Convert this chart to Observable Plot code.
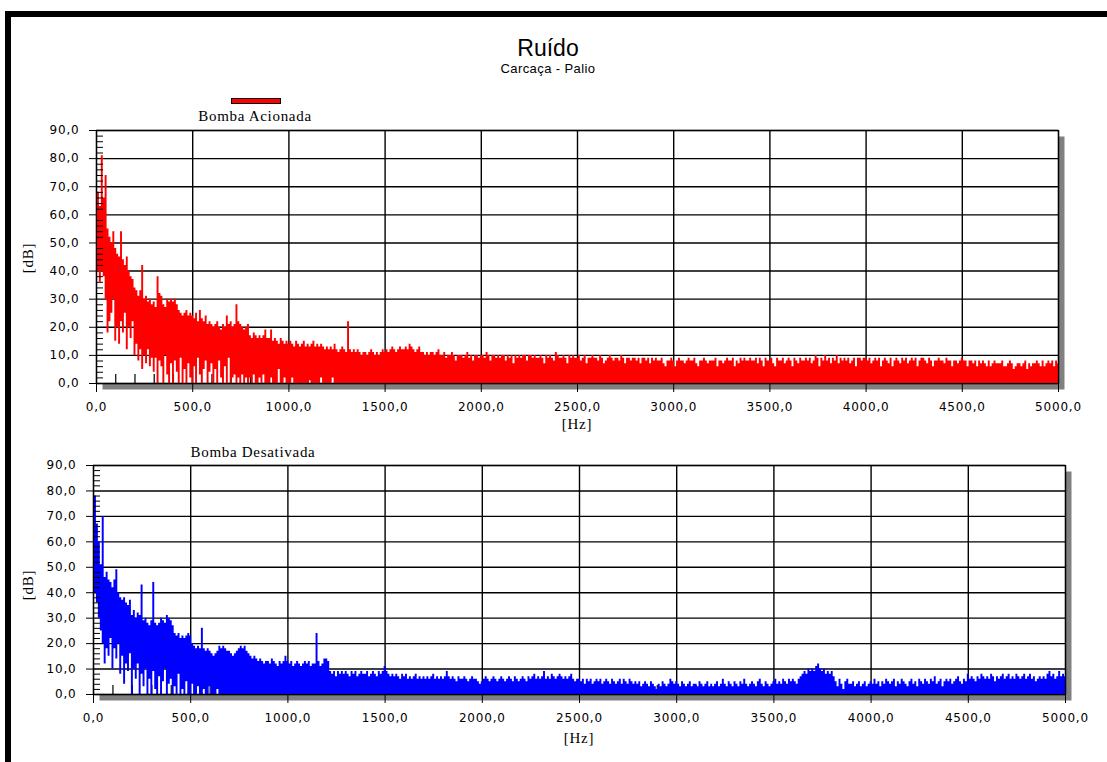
<!DOCTYPE html>
<html>
<head>
<meta charset="utf-8">
<script src="https://cdn.jsdelivr.net/npm/d3@7"></script>
<script src="https://cdn.jsdelivr.net/npm/@observablehq/plot@0.6"></script>
<style>
  html, body { margin: 0; padding: 0; background: #fff; }
  #wrap { position: relative; width: 1107px; height: 762px; overflow: hidden; background: #fff; }
  #border { position: absolute; left: 5px; top: 11px; width: 1200px; height: 900px; border-top: 6px solid #000; border-left: 6px solid #000; }
  .abs { position: absolute; white-space: nowrap; line-height: 1; color: #000; }
  .serif { font-family: "Liberation Serif", "DejaVu Serif", serif; font-size: 15px; letter-spacing: 0.7px; }
  #p1, #p2 { position: absolute; left: 0; }
  #p1 { top: 120px; } #p2 { top: 455px; }
</style>
</head>
<body>
<div id="wrap">
  <div id="border"></div>
  <div id="p1"></div>
  <div id="p2"></div>
  <div class="abs" id="title" style="left:548px; top:37px; transform:translateX(-50%); font-family:'Liberation Sans',Arial,sans-serif; font-size:23px;"></div>
  <div class="abs" id="subtitle" style="left:548px; top:62px; transform:translateX(-50%); font-family:'Liberation Sans',Arial,sans-serif; font-size:13px; letter-spacing:0.4px;"></div>
  <div class="abs" style="left:231px; top:98px; width:48px; height:4px; background:#ff0000; border:1px solid #000;"></div>
  <div class="abs serif" id="t1" style="left:255px; top:109px; transform:translateX(-50%);"></div>
  <div class="abs serif" id="t2" style="left:253px; top:445px; transform:translateX(-50%);"></div>
  <div class="abs serif" style="left:577px; top:417px; transform:translateX(-50%);">[Hz]</div>
  <div class="abs serif" style="left:579px; top:731px; transform:translateX(-50%);">[Hz]</div>
  <div class="abs serif" style="left:28px; top:258px; transform:translate(-50%,-50%) rotate(-90deg);">[dB]</div>
  <div class="abs serif" style="left:28px; top:585px; transform:translate(-50%,-50%) rotate(-90deg);">[dB]</div>
</div>
<script>
// ---- data ----
const TITLE = "Ruído";
const SUBTITLE = "Carcaça - Palio";
const SERIES_NAMES = ["Bomba Acionada", "Bomba Desativada"];
const SERIES_COLORS = ["#ff0000", "#0000ff"];
const BIN_HZ = 10; // spectrum bins: 0, 10, 20 ... 5000 Hz
const X_TICKS = [0, 500, 1000, 1500, 2000, 2500, 3000, 3500, 4000, 4500, 5000];
const Y_TICKS = [0, 10, 20, 30, 40, 50, 60, 70, 80, 90];
const X_MINOR = [100, 200, 300, 400, 600, 700, 800, 900, 1100, 1200, 1300, 1400, 1600, 1700, 1800, 1900, 2100, 2200, 2300, 2400, 2600, 2700, 2800, 2900, 3100, 3200, 3300, 3400, 3600, 3700, 3800, 3900, 4100, 4200, 4300, 4400, 4600, 4700, 4800, 4900];
const Y_MINOR = [2, 4, 6, 8, 12, 14, 16, 18, 22, 24, 26, 28, 32, 34, 36, 38, 42, 44, 46, 48, 52, 54, 56, 58, 62, 64, 66, 68, 72, 74, 76, 78, 82, 84, 86, 88];

// Bomba Acionada: upper envelope [dB] per 10 Hz bin
const acionadaHi = [
57,68,63,81,66,74,55,52,50,54,
48,46,45,54,44,42,45,40,38,37,
34,33,31,33,42,30,31,29,30,28,
29,27,38,32,31,28,27,30,29,30,
29,30,28,26,25,24,25,26,24,25,
24,23,25,22,26,23,22,24,21,22,
21,20,21,22,20,19,21,20,24,21,
22,20,21,28,22,21,20,19,20,21,
17,16,18,17,16,17,16,17,19,16,
16,19,15,16,15,14,16,15,14,15,
14,15,14,13,15,14,13,14,15,13,
14,13,14,15,13,14,13,14,13,12,
13,12,13,12,14,12,11,12,13,12,
11,22,12,11,12,11,12,11,10,11,
11,10,11,12,11,10,11,10,11,12,
11,12,11,12,13,12,11,12,13,12,
12,13,12,14,13,12,11,12,13,11,
11,10,11,10,11,11,10,11,12,10,
10,11,9,10,10,11,10,8,10,10,
10,9,10,11,9,10,8,10,10,9,
10,10,9,11,10,8,10,10,9,10,
9,10,10,8,10,9,10,7,10,9,
10,9,10,10,8,10,10,9,10,9,
9,10,9,7,10,9,10,9,8,11,
10,9,9,10,9,7,10,9,10,9,
9,10,8,9,10,7,9,9,10,9,
9,8,10,9,7,8,9,10,9,8,
9,9,8,10,9,7,9,9,8,9,
9,8,9,7,9,9,8,9,7,9,
8,9,8,8,9,7,6,8,8,9,
8,6,8,9,8,8,7,8,9,8,
8,9,7,6,8,8,9,8,7,8,
8,8,9,6,8,8,7,8,9,8,
8,9,6,8,7,9,8,9,8,8,
9,8,8,9,7,9,8,6,9,8,
8,9,7,6,9,8,8,9,7,8,
9,8,6,9,8,7,9,8,8,9,
8,9,7,8,10,9,6,9,8,10,
8,9,7,9,8,10,7,9,8,9,
8,9,7,8,9,6,9,9,8,9,
9,8,9,7,8,9,8,9,6,8,
9,8,7,9,6,8,9,8,7,9,
8,9,7,8,9,8,9,6,8,9,
9,8,7,9,8,6,8,8,9,8,
8,7,9,8,8,6,8,8,7,8,
9,8,8,6,8,8,7,8,6,8,
7,8,7,6,8,6,7,8,7,7,
7,8,6,6,7,8,7,5,6,7,
7,6,7,8,5,7,6,7,7,8,
7,6,8,6,7,8,7,8,6,8,
7];

// Bomba Acionada: lower envelope [dB] per 10 Hz bin
const acionadaLo = [
33,40,36,40,38,30,18,22,25,30,
15,20,14,22,18,25,12,20,16,22,
10,14,8,12,5,10,7,12,6,9,
4,9,0,8,6,0,10,3,0,7,
0,8,4,0,9,0,5,0,7,2,
0,6,0,9,3,0,5,8,0,4,
7,0,5,0,8,2,0,6,0,9,
0,2,3,0,2,0,3,0,2,0,
2,0,3,0,0,2,0,3,0,0,
0,2,0,0,0,5,0,0,2,0,
0,0,2,0,0,0,0,0,0,0,
0,1,0,0,0,0,0,2,0,0,
0,0,0,2,0,0,0,0,0,0,
0,0,0,0,0,0,0,0,0,0,
0,0,0,0,0,0,0,0,0,0,
0,0,0,0,0,0,0,0,0,0,
0,0,0,0,0,0,0,0,0,0,
0,0,0,0,0,0,0,0,0,0,
0,0,0,0,0,0,0,0,0,0,
0,0,0,0,0,0,0,0,0,0,
0,0,0,0,0,0,0,0,0,0,
0,0,0,0,0,0,0,0,0,0,
0,0,0,0,0,0,0,0,0,0,
0,0,0,0,0,0,0,0,0,0,
0,0,0,0,0,0,0,0,0,0,
0,0,0,0,0,0,0,0,0,0,
0,0,0,0,0,0,0,0,0,0,
0,0,0,0,0,0,0,0,0,0,
0,0,0,0,0,0,0,0,0,0,
0,0,0,0,0,0,0,0,0,0,
0,0,0,0,0,0,0,0,0,0,
0,0,0,0,0,0,0,0,0,0,
0,0,0,0,0,0,0,0,0,0,
0,0,0,0,0,0,0,0,0,0,
0,0,0,0,0,0,0,0,0,0,
0,0,0,0,0,0,0,0,0,0,
0,0,0,0,0,0,0,0,0,0,
0,0,0,0,0,0,0,0,0,0,
0,0,0,0,0,0,0,0,0,0,
0,0,0,0,0,0,0,0,0,0,
0,0,0,0,0,0,0,0,0,0,
0,0,0,0,0,0,0,0,0,0,
0,0,0,0,0,0,0,0,0,0,
0,0,0,0,0,0,0,0,0,0,
0,0,0,0,0,0,0,0,0,0,
0,0,0,0,0,0,0,0,0,0,
0,0,0,0,0,0,0,0,0,0,
0,0,0,0,0,0,0,0,0,0,
0,0,0,0,0,0,0,0,0,0,
0,0,0,0,0,0,0,0,0,0,
0];

// Bomba Desativada: upper envelope [dB] per 10 Hz bin
const desativadaHi = [
68,78,67,60,51,70,46,48,45,44,
42,45,49,40,38,37,38,36,35,37,
31,33,30,32,31,43,29,30,28,27,
29,44,28,27,28,30,29,28,31,30,
29,27,24,23,24,22,23,22,23,24,
23,20,19,18,19,18,26,18,17,18,
17,16,15,16,17,19,18,19,18,17,
17,16,15,16,17,18,19,18,19,17,
16,15,14,15,14,13,14,13,12,13,
13,12,14,13,12,11,13,12,13,15,
13,12,13,11,12,13,12,11,12,13,
12,13,11,12,12,24,13,11,12,14,
14,13,9,8,9,7,9,8,9,8,
9,8,7,9,8,9,7,8,9,8,
8,9,7,8,9,8,7,9,8,9,
11,9,8,7,8,7,8,7,6,8,
7,8,6,7,6,7,8,6,7,6,
7,6,7,6,7,8,6,7,6,7,
6,7,9,7,6,7,6,5,7,6,
6,7,6,5,6,7,6,6,5,4,
5,6,7,6,5,6,7,6,5,6,
7,6,5,6,7,6,5,7,6,5,
6,7,6,5,7,6,7,8,6,7,
6,7,9,6,7,6,8,7,6,7,
8,7,6,7,6,7,8,6,5,6,
6,5,6,4,6,5,6,4,5,6,
5,6,4,5,6,5,4,6,5,4,
5,6,4,6,5,4,6,5,4,5,
4,5,3,4,5,4,3,5,4,3,
2,4,3,5,4,3,4,6,5,4,
5,4,3,5,4,3,4,5,3,4,
4,3,5,4,3,4,5,3,4,3,
4,5,3,4,6,4,3,5,4,3,
5,4,3,5,4,6,4,3,4,5,
4,3,5,6,4,3,5,4,3,4,
5,6,4,5,4,6,5,4,6,5,
6,5,4,6,7,8,9,8,10,9,
10,9,11,12,10,9,10,8,9,8,
9,7,5,3,6,4,2,5,6,4,
4,5,3,4,5,3,4,5,3,4,
5,4,6,4,5,3,5,4,6,5,
4,5,6,3,5,4,6,5,4,3,
5,6,4,5,3,6,5,4,6,5,
4,6,5,7,4,5,6,3,5,6,
5,6,4,5,6,7,5,4,6,5,
8,6,7,6,5,7,6,8,7,6,
7,6,8,7,5,7,6,7,8,6,
7,8,6,7,6,8,7,6,7,8,
6,7,8,6,7,5,6,7,6,7,
6,8,9,7,8,6,7,9,7,8,
7];

// Bomba Desativada: lower envelope [dB] per 10 Hz bin
const desativadaLo = [
38,40,36,30,25,20,12,18,15,22,
10,18,14,20,8,15,4,12,9,16,
0,10,6,12,0,8,3,10,0,6,
0,9,2,0,7,0,5,10,0,4,
6,0,3,0,8,0,2,0,5,0,
0,4,0,0,3,0,0,2,0,0,
3,0,0,0,2,0,0,0,0,0,
0,0,0,0,0,0,0,0,0,0,
0,0,0,0,0,0,0,0,0,0,
0,0,0,0,0,0,0,0,0,0,
0,0,0,0,0,0,0,0,0,0,
0,0,0,0,0,0,0,0,0,0,
0,0,0,0,0,0,0,0,0,0,
0,0,0,0,0,0,0,0,0,0,
0,0,0,0,0,0,0,0,0,0,
0,0,0,0,0,0,0,0,0,0,
0,0,0,0,0,0,0,0,0,0,
0,0,0,0,0,0,0,0,0,0,
0,0,0,0,0,0,0,0,0,0,
0,0,0,0,0,0,0,0,0,0,
0,0,0,0,0,0,0,0,0,0,
0,0,0,0,0,0,0,0,0,0,
0,0,0,0,0,0,0,0,0,0,
0,0,0,0,0,0,0,0,0,0,
0,0,0,0,0,0,0,0,0,0,
0,0,0,0,0,0,0,0,0,0,
0,0,0,0,0,0,0,0,0,0,
0,0,0,0,0,0,0,0,0,0,
0,0,0,0,0,0,0,0,0,0,
0,0,0,0,0,0,0,0,0,0,
0,0,0,0,0,0,0,0,0,0,
0,0,0,0,0,0,0,0,0,0,
0,0,0,0,0,0,0,0,0,0,
0,0,0,0,0,0,0,0,0,0,
0,0,0,0,0,0,0,0,0,0,
0,0,0,0,0,0,0,0,0,0,
0,0,0,0,0,0,0,0,0,0,
0,0,0,0,0,0,0,0,0,0,
0,0,0,0,0,0,0,0,0,0,
0,0,0,0,0,0,0,0,0,0,
0,0,0,0,0,0,0,0,0,0,
0,0,0,0,0,0,0,0,0,0,
0,0,0,0,0,0,0,0,0,0,
0,0,0,0,0,0,0,0,0,0,
0,0,0,0,0,0,0,0,0,0,
0,0,0,0,0,0,0,0,0,0,
0,0,0,0,0,0,0,0,0,0,
0,0,0,0,0,0,0,0,0,0,
0,0,0,0,0,0,0,0,0,0,
0,0,0,0,0,0,0,0,0,0,
0];

// ---- drawing ----
const fmt = d => d.toFixed(1).replace(".", ",");

function panel(hi, lo, color, m) {
  const n = Math.min(hi.length, lo.length);
  const rows = [];
  for (let i = 0; i < n; i++) rows.push({f: i * BIN_HZ, hi: hi[i], lo: lo[i]});
  const plotW = 1107 - m.left - m.right;
  const plotH = m.height - m.top - m.bottom;
  return Plot.plot({
    width: 1107,
    height: m.height,
    marginLeft: m.left, marginRight: m.right, marginTop: m.top, marginBottom: m.bottom,
    x: {domain: [0, 5000]},
    y: {domain: [0, 90]},
    style: {fontFamily: "'DejaVu Sans', Verdana, sans-serif", fontSize: "12px", letterSpacing: "0.8px", background: "transparent", overflow: "visible", color: "#000"},
    marks: [
      Plot.frame({fill: "#808080", dx: 6, dy: 6}),
      Plot.frame({fill: "white"}),
      Plot.gridX({ticks: X_TICKS, stroke: "#000", strokeOpacity: 1, strokeWidth: 1.4}),
      Plot.gridY({ticks: Y_TICKS, stroke: "#000", strokeOpacity: 1, strokeWidth: 1.4}),
      // minor x ticks (inside, from the baseline up), hidden under the spectrum
      Plot.tickX(X_MINOR, {x: d => d, insetTop: plotH - 9, stroke: "#000", strokeWidth: 1.2}),
      Plot.areaY(rows, {x: "f", y1: "lo", y2: "hi", fill: color, curve: "step"}),
      // minor y ticks (inside the left edge), drawn over the spectrum
      Plot.tickY(Y_MINOR, {y: d => d, insetRight: plotW - 7, stroke: "#000", strokeWidth: 1}),
      Plot.axisX({ticks: X_TICKS, tickSize: 9, tickPadding: 10, tickFormat: fmt, label: null, stroke: "#000", fill: "#000"}),
      Plot.axisY({ticks: Y_TICKS, tickSize: 7, tickPadding: 10, tickFormat: fmt, label: null, stroke: "#000", fill: "#000"}),
      Plot.frame({stroke: "#000", strokeWidth: 1.2})
    ]
  });
}

document.getElementById("title").textContent = TITLE;
document.getElementById("subtitle").textContent = SUBTITLE;
document.getElementById("t1").textContent = SERIES_NAMES[0];
document.getElementById("t2").textContent = SERIES_NAMES[1];

document.getElementById("p1").append(
  panel(acionadaHi, acionadaLo, SERIES_COLORS[0], {height: 303, left: 96, right: 49, top: 10, bottom: 40})
);
document.getElementById("p2").append(
  panel(desativadaHi, desativadaLo, SERIES_COLORS[1], {height: 279, left: 93, right: 42, top: 10, bottom: 40})
);
</script>
</body>
</html>
